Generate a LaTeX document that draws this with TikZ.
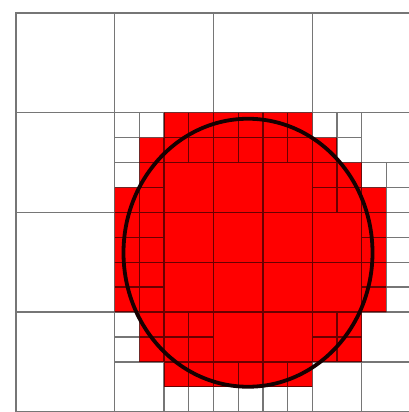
\documentclass[tikz,border=0pt]{standalone}
\usetikzlibrary{calc}
\definecolor{gridgray}{HTML}{767676}
\definecolor{griddark}{HTML}{6A0000}
\definecolor{circcol}{HTML}{160000}
\definecolor{fillred}{HTML}{FF0000}
\newcommand\qtgrid{%
  % unsplit big cells (top row and left column)
  \foreach \c in {0,...,3} {\draw (4*\c,0) rectangle ++(4,4);}
  \foreach \r in {1,...,3} {\draw (0,4*\r) rectangle ++(4,4);}
  % medium cells of the refined big cells
  \foreach \a in {2,...,7} {\foreach \b in {2,...,7} {\draw (2*\a,2*\b) rectangle ++(2,2);}}
  % medium cells split into fine cells
  \foreach \a/\b in {2/2,3/2,4/2,5/2,6/2,2/3,6/3,7/3,2/4,7/4,2/5,7/5,2/6,3/6,6/6,3/7,4/7,5/7} {%
    \draw (2*\a+1,2*\b) -- (2*\a+1,2*\b+2);
    \draw (2*\a,2*\b+1) -- (2*\a+2,2*\b+1);
  }%
}
\newcommand\redshape{(6,4) -- (12,4) -- (12,5) -- (13,5) -- (13,6) -- (14,6) -- (14,7) -- (15,7) -- (15,12) -- (14,12) -- (14,14) -- (12,14) -- (12,15) -- (6,15) -- (6,14) -- (5,14) -- (5,12) -- (4,12) -- (4,7) -- (5,7) -- (5,5) -- (6,5) -- cycle}
\begin{document}
\begin{tikzpicture}[x=1pt,y=-1pt,
  gridline/.style={line width=1.3pt},
  circline/.style={line width=3.8pt, draw=circcol}]
\useasboundingbox (0,0) rectangle (409,412);
\fill[white] (0,0) rectangle (409,412);
\clip (0,0) rectangle (409,412);
\begin{scope}[xshift=16pt, yshift=-13pt, x=24.69pt, y=-24.92pt]
  \fill[fillred] \redshape;
  \begin{scope}[gridline, draw=gridgray]
    \qtgrid
  \end{scope}
  \begin{scope}
    \clip \redshape;
    \begin{scope}[gridline, draw=griddark]
      \qtgrid
    \end{scope}
  \end{scope}
\end{scope}
\draw[circline] (248,252.75) ellipse [x radius=124.5, y radius=134];
\end{tikzpicture}
\end{document}
